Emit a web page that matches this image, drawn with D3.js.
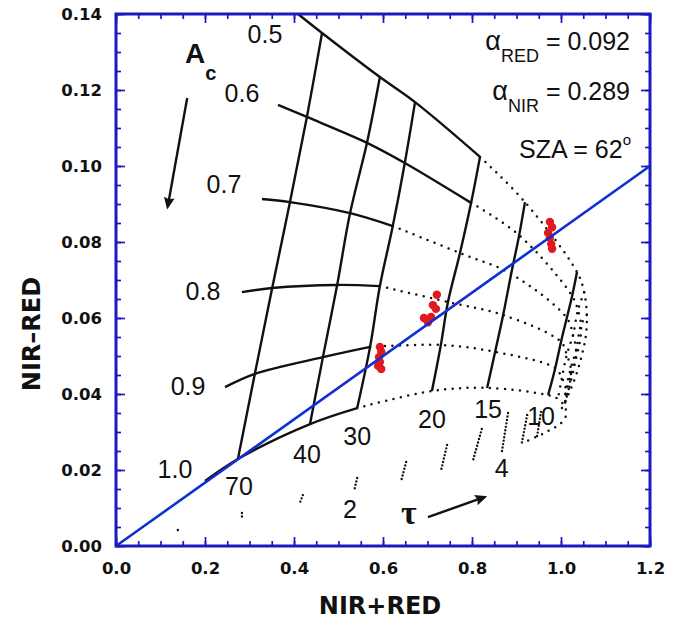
<!DOCTYPE html>
<html>
<head>
<meta charset="utf-8">
<script src="https://cdn.jsdelivr.net/npm/d3@7"></script>
<style>
  html, body { margin: 0; padding: 0; background: #fff; }
  svg { display: block; }
</style>
</head>
<body>
<svg id="chart" width="683" height="625"></svg>
<script>
// ---------------------------------------------------------------------------
// Data: NIR+RED (sum) and NIR−RED (diff) reflectance grid of cloud fraction Ac
// against optical depth τ, with observed pixels and their linear fit.
// ---------------------------------------------------------------------------

// Cloud fraction of each Ac curve, top to bottom
const acLevels = [0.5, 0.6, 0.7, 0.8, 0.9, 1.0];
const acLabels = ["0.5", "0.6", "0.7", "0.8", "0.9", "1.0"];

// Optical depth of each solid τ line, left to right
const tauLevels = [70, 40, 30, 20, 15, 10];

// Thick-cloud end of each Ac curve
const acStartSum  = [0.409, 0.364, 0.328, 0.283, 0.245, 0.200];
const acStartDiff = [0.1400, 0.1161, 0.0913, 0.0668, 0.0418, 0.0171];

// Grid nodes: rows follow acLevels, columns follow tauLevels
const nodeSum = [
  [0.463, 0.593, 0.672, 0.818, 0.919, 1.036],
  [0.429, 0.564, 0.649, 0.798, 0.906, 1.025],
  [0.391, 0.526, 0.622, 0.773, 0.888, 1.013],
  [0.351, 0.497, 0.593, 0.746, 0.870, 1.000],
  [0.312, 0.465, 0.571, 0.730, 0.852, 0.987],
  [0.274, 0.436, 0.542, 0.710, 0.834, 0.971]
];
const nodeDiff = [
  [0.1350, 0.1234, 0.1168, 0.1024, 0.0905, 0.0721],
  [0.1129, 0.1061, 0.1008, 0.0903, 0.0818, 0.0658],
  [0.0905, 0.0876, 0.0842, 0.0771, 0.0716, 0.0600],
  [0.0679, 0.0687, 0.0684, 0.0642, 0.0608, 0.0537],
  [0.0453, 0.0497, 0.0524, 0.0529, 0.0511, 0.0468],
  [0.0229, 0.0321, 0.0363, 0.0408, 0.0416, 0.0397]
];

// Thin-cloud continuation of each Ac curve past τ = 10 (where the grid folds)
const foldSum = [
  [1.052, 1.058, 1.056, 1.047, 1.034, 1.016, 0.998],
  [1.038, 1.045, 1.043, 1.034, 1.020, 1.007],
  [1.027, 1.034, 1.029, 1.018, 1.007],
  [1.013, 1.022, 1.020, 1.011],
  [1.002, 1.011, 1.009],
  [0.993, 1.009, 1.011, 0.998, 0.975, 0.948, 0.912]
];
const foldDiff = [
  [0.0668, 0.0608, 0.0555, 0.0503, 0.0450, 0.0397, 0.0353],
  [0.0621, 0.0582, 0.0542, 0.0495, 0.0442, 0.0389],
  [0.0555, 0.0516, 0.0468, 0.0416, 0.0371],
  [0.0503, 0.0468, 0.0429, 0.0384],
  [0.0442, 0.0411, 0.0376],
  [0.0387, 0.0366, 0.0342, 0.0321, 0.0305, 0.0289, 0.0271]
];

// Short τ lines of the thinnest clouds (Ac 0.5 end, Ac 1.0 end)
const smallTau     = [0.5, 1, 1.5, 2, 2.5, 3, 3.5, 4, 5, 6];
const smallTopSum  = [0.139, 0.283, 0.420, 0.542, 0.652, 0.744, 0.822, 0.881, 0.924, 0.955];
const smallTopDiff = [0.0042, 0.0087, 0.0134, 0.0179, 0.0221, 0.0266, 0.0308, 0.0350, 0.0345, 0.0353];
const smallBotSum  = [0.139, 0.283, 0.413, 0.535, 0.640, 0.730, 0.802, 0.867, 0.912, 0.946];
const smallBotDiff = [0.0037, 0.0076, 0.0113, 0.0145, 0.0168, 0.0197, 0.0224, 0.0247, 0.0271, 0.0287];
const smallTauLabelled = [2, 4];

// Observed pixels
const obsSum  = [0.593, 0.596, 0.591, 0.593, 0.589, 0.596,
                 0.721, 0.712, 0.719, 0.692, 0.708, 0.701,
                 0.975, 0.980, 0.971, 0.975, 0.978, 0.980];
const obsDiff = [0.0524, 0.0511, 0.0497, 0.0484, 0.0474, 0.0466,
                 0.0661, 0.0634, 0.0624, 0.0600, 0.0603, 0.0589,
                 0.0853, 0.0839, 0.0824, 0.0811, 0.0795, 0.0782];

// Linear fit through the observations
const fitSum  = [0.0, 1.2];
const fitDiff = [0.0, 0.1];

// Scene parameters
const albedoRed = "0.092";
const albedoNir = "0.289";
const sza = 62;

// Axis ticks
const xTicks = [0.0, 0.2, 0.4, 0.6, 0.8, 1.0, 1.2];
const yTicks = [0.00, 0.02, 0.04, 0.06, 0.08, 0.10, 0.12, 0.14];

// Direction arrows (tail, head) in data units
const acArrowSum   = [0.160, 0.116];
const acArrowDiff  = [0.1179, 0.0892];
const tauArrowSum  = [0.701, 0.829];
const tauArrowDiff = [0.0076, 0.0129];

// ---------------------------------------------------------------------------
// Layout and style
// ---------------------------------------------------------------------------
const box = { left: 116, right: 650, top: 14, bottom: 546 };
const INK = "#111111", FRAME = "#1a1abf", FIT = "#1030cf", OBS = "#e01a1e";
const SANS = "'Liberation Sans', Arial, sans-serif";
const WIDE = "'DejaVu Sans', Verdana, sans-serif";
const solidUntil = [3, 3, 2, 2, 2, 2];          // last τ column drawn solid on each Ac curve
const acLabelOffset  = [[-33, 29], [-36, -3], [-38, -6], [-39, 8], [-37, 8], [-30, -3]];
const tauLabelOffset = [[1, 36], [-3, 39], [0, 37], [0, 37], [1, 30], [-7, 30]];
const smallLabelOffset = { 2: [-4, 27], 4: [0, 25] };
const DOTS = "0,7.5";

const x = d3.scaleLinear().domain([0, 1.2]).range([box.left, box.right]);
const y = d3.scaleLinear().domain([0, 0.14]).range([box.bottom, box.top]);
const svg = d3.select("#chart");

const smooth = d3.line().x(d => x(d[0])).y(d => y(d[1])).curve(d3.curveCatmullRom.alpha(0.5));
const straight = d3.line().x(d => x(d[0])).y(d => y(d[1]));

// ---- axes: inward ticks on all four sides ---------------------------------
function styleAxis(g) {
  g.select(".domain").remove();
  g.selectAll(".tick line").attr("stroke", FRAME).attr("stroke-width", 1.7);
  g.attr("font-family", WIDE).attr("font-size", 16.5).attr("font-weight", "bold");
  g.selectAll(".tick text").attr("fill", "#111");
}
const xMinor = d3.range(0, 1.2001, 0.05).map(v => +v.toFixed(2));
const yMinor = d3.range(0, 0.14001, 0.005).map(v => +v.toFixed(3));

svg.append("g").attr("transform", `translate(0,${box.bottom})`)
  .call(d3.axisBottom(x).tickValues(xTicks).tickSize(-9).tickSizeOuter(0).tickPadding(16).tickFormat(d3.format(".1f")))
  .call(styleAxis);
svg.append("g").attr("transform", `translate(0,${box.bottom})`)
  .call(d3.axisBottom(x).tickValues(xMinor).tickSize(-5).tickSizeOuter(0).tickFormat(""))
  .call(styleAxis);
svg.append("g").attr("transform", `translate(${box.left},0)`)
  .call(d3.axisLeft(y).tickValues(yTicks).tickSize(-9).tickSizeOuter(0).tickPadding(14).tickFormat(d3.format(".2f")))
  .call(styleAxis);
svg.append("g").attr("transform", `translate(${box.left},0)`)
  .call(d3.axisLeft(y).tickValues(yMinor).tickSize(-5).tickSizeOuter(0).tickFormat(""))
  .call(styleAxis);
svg.append("g").attr("transform", `translate(0,${box.top})`)
  .call(d3.axisTop(x).tickValues(xTicks).tickSize(-9).tickSizeOuter(0).tickFormat(""))
  .call(styleAxis);
svg.append("g").attr("transform", `translate(0,${box.top})`)
  .call(d3.axisTop(x).tickValues(xMinor).tickSize(-5).tickSizeOuter(0).tickFormat(""))
  .call(styleAxis);
svg.append("g").attr("transform", `translate(${box.right},0)`)
  .call(d3.axisRight(y).tickValues(yTicks).tickSize(-9).tickSizeOuter(0).tickFormat(""))
  .call(styleAxis);
svg.append("g").attr("transform", `translate(${box.right},0)`)
  .call(d3.axisRight(y).tickValues(yMinor).tickSize(-5).tickSizeOuter(0).tickFormat(""))
  .call(styleAxis);

// ---- grid of Ac curves and τ lines -----------------------------------------
const grid = svg.append("g").attr("fill", "none").attr("stroke", INK);

acLevels.forEach((ac, i) => {
  const pts = [[acStartSum[i], acStartDiff[i]]]
    .concat(nodeSum[i].map((s, j) => [s, nodeDiff[i][j]]))
    .concat(foldSum[i].map((s, j) => [s, foldDiff[i][j]]));
  const k = solidUntil[i] + 1;
  grid.append("path").attr("d", smooth(pts.slice(k)))
    .attr("stroke-width", 2.5).attr("stroke-linecap", "round").attr("stroke-dasharray", DOTS);
  grid.append("path").attr("d", smooth(pts.slice(0, k + 1)))
    .attr("stroke-width", 2.4);
});

tauLevels.forEach((tau, j) => {
  const pts = acLevels.map((ac, i) => [nodeSum[i][j], nodeDiff[i][j]]);
  grid.append("path").attr("d", smooth(pts)).attr("stroke-width", 2.4);
});

// dotted τ lines inside the fold
[0, 1].forEach(c => {
  const pts = acLevels.map((ac, i) => [foldSum[i][c], foldDiff[i][c]]);
  grid.append("path").attr("d", smooth(pts))
    .attr("stroke-width", 2.5).attr("stroke-linecap", "round").attr("stroke-dasharray", DOTS);
});

// thin-cloud τ segments
smallTau.forEach((t, k) => {
  grid.append("path")
    .attr("d", straight([[smallTopSum[k], smallTopDiff[k]], [smallBotSum[k], smallBotDiff[k]]]))
    .attr("stroke-width", 2.4).attr("stroke-linecap", "round").attr("stroke-dasharray", "0,3.5");
});

// ---- observations and fit --------------------------------------------------
svg.append("g").selectAll("circle")
  .data(obsSum.map((s, k) => [s, obsDiff[k]]))
  .join("circle")
  .attr("cx", d => x(d[0])).attr("cy", d => y(d[1])).attr("r", 4.2)
  .attr("fill", OBS);

svg.append("path")
  .attr("d", straight(fitSum.map((s, k) => [s, fitDiff[k]])))
  .attr("fill", "none").attr("stroke", FIT).attr("stroke-width", 2.6);

// ---- frame -----------------------------------------------------------------
svg.append("rect")
  .attr("x", box.left).attr("y", box.top)
  .attr("width", box.right - box.left).attr("height", box.bottom - box.top)
  .attr("fill", "none").attr("stroke", FRAME).attr("stroke-width", 3);

// ---- labels on the grid ----------------------------------------------------
const labels = svg.append("g").attr("font-family", SANS).attr("font-size", 25).attr("fill", "#111")
  .attr("text-anchor", "middle");

acLabels.forEach((t, i) => {
  labels.append("text")
    .attr("x", x(acStartSum[i]) + acLabelOffset[i][0])
    .attr("y", y(acStartDiff[i]) + acLabelOffset[i][1])
    .text(t);
});

tauLevels.forEach((tau, j) => {
  const last = acLevels.length - 1;
  labels.append("text")
    .attr("x", x(nodeSum[last][j]) + tauLabelOffset[j][0])
    .attr("y", y(nodeDiff[last][j]) + tauLabelOffset[j][1])
    .text(tau);
});

smallTauLabelled.forEach(t => {
  const k = smallTau.indexOf(t);
  labels.append("text")
    .attr("x", x(smallBotSum[k]) + smallLabelOffset[t][0])
    .attr("y", y(smallBotDiff[k]) + smallLabelOffset[t][1])
    .text(t);
});

// ---- direction arrows ------------------------------------------------------
const defs = svg.append("defs");
defs.append("marker").attr("id", "head")
  .attr("viewBox", "0 0 10 10").attr("refX", 8).attr("refY", 5)
  .attr("markerWidth", 7.5).attr("markerHeight", 5).attr("markerUnits", "strokeWidth")
  .attr("orient", "auto")
  .append("path").attr("d", "M0,0.5 L10,5 L0,9.5 L1.5,5 Z").attr("fill", INK);

svg.append("path")
  .attr("d", straight(acArrowSum.map((s, k) => [s, acArrowDiff[k]])))
  .attr("stroke", INK).attr("stroke-width", 2.4).attr("marker-end", "url(#head)");
svg.append("path")
  .attr("d", straight(tauArrowSum.map((s, k) => [s, tauArrowDiff[k]])))
  .attr("stroke", INK).attr("stroke-width", 2.4).attr("marker-end", "url(#head)");

svg.append("text").attr("x", 185).attr("y", 63)
  .attr("font-family", SANS).attr("font-weight", "bold").attr("font-size", 28).attr("fill", "#111")
  .call(t => {
    t.append("tspan").text("A");
    t.append("tspan").attr("dy", 17).attr("font-size", 20).text("c");
  });

svg.append("text").attr("x", 401).attr("y", 524)
  .attr("font-family", "'Liberation Serif', 'Times New Roman', serif").attr("font-weight", "bold")
  .attr("font-size", 34).attr("fill", "#111").text("τ");

// ---- scene parameters ------------------------------------------------------
const info = svg.append("g").attr("font-family", SANS).attr("font-size", 25).attr("fill", "#111")
  .attr("text-anchor", "end");

[["RED", albedoRed, 50], ["NIR", albedoNir, 100]].forEach(([band, val, base]) => {
  const t = info.append("text").attr("x", 630).attr("y", base);
  t.append("tspan").attr("font-size", 27).text("α");
  t.append("tspan").attr("dy", 12).attr("font-size", 18).text(band);
  t.append("tspan").attr("dy", -12).text("\u00a0= " + val);
});

const s = info.append("text").attr("x", 631).attr("y", 158);
s.append("tspan").text(`SZA = ${sza}`);
s.append("tspan").attr("dy", -13).attr("font-size", 15).text("o");

// ---- axis titles -----------------------------------------------------------
svg.append("text").attr("x", 380).attr("y", 614)
  .attr("text-anchor", "middle").attr("font-family", WIDE).attr("font-weight", "bold")
  .attr("font-size", 24).attr("fill", "#111").text("NIR+RED");
svg.append("text").attr("transform", "translate(40,334) rotate(-90)")
  .attr("text-anchor", "middle").attr("font-family", WIDE).attr("font-weight", "bold")
  .attr("font-size", 24).attr("fill", "#111").text("NIR–RED");
</script>
</body>
</html>
